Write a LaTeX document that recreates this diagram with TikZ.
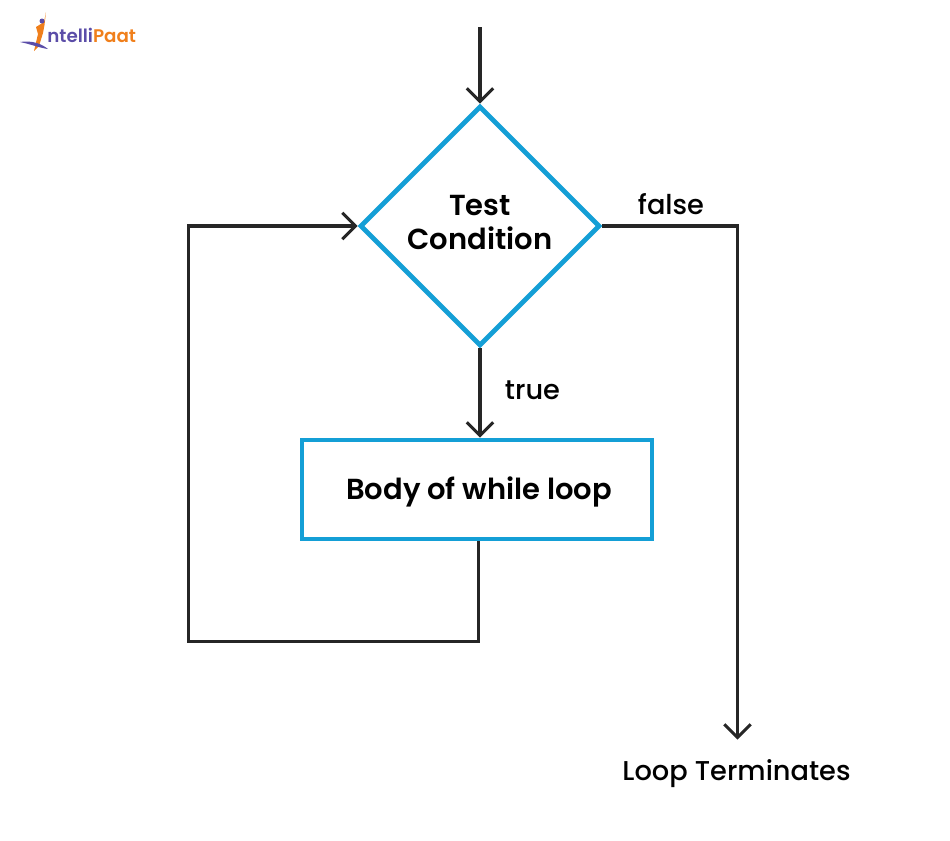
\documentclass[tikz,border=0pt]{standalone}
\usepackage{fontspec}
\setmainfont[BoldFont={Poppins SemiBold}]{Poppins Medium}
\usetikzlibrary{shapes.geometric,arrows.meta}
\definecolor{boxblue}{HTML}{149FD6}
\definecolor{linegray}{HTML}{262626}
\definecolor{logopurple}{HTML}{5B4DA8}
\definecolor{logoorange}{HTML}{F07F1B}

\begin{document}
\begin{tikzpicture}[
    x=0.02cm, y=-0.02cm,
    test/.style={diamond, draw=boxblue, line width=2.7pt, minimum width=4.8cm, minimum height=4.8cm, inner sep=0pt, align=center, font=\fontsize{16.5}{19.5}\selectfont\bfseries},
    body/.style={rectangle, draw=boxblue, line width=2.7pt, minimum width=7cm, minimum height=1.98cm, font=\fontsize{16.5}{20}\selectfont\bfseries},
    label/.style={font=\fontsize{15.5}{18}\selectfont, inner sep=0pt},
    flow/.style={draw=linegray, line width=1.75pt},
    arrow/.style={flow, -{Straight Barb[length=7.5pt, width=15pt, line width=1.75pt]}},
]

\useasboundingbox (0,0) rectangle (950,840);

\node[test] (cond) at (480,226) {\raisebox{4.2pt}{Test}\\\raisebox{4.2pt}{Condition}};
\node[body] (loopbody) at (477,489.5) {\hspace{2.5pt}\raisebox{-5.6pt}[0pt][0pt]{Body of while loop}};
\node[label, minimum height=1.24cm] (term) at (736.5,771) {\raisebox{-5.2pt}[0pt][0pt]{Loop Terminates}};

\coordinate (start) at (480,27);
\coordinate (corner) at (188.5,641.5);

\draw[arrow] (start) -- (cond.north);
\draw[arrow] (cond.south) -- (cond.south |- loopbody.north);
\draw[arrow] (cond.east) -| ([xshift=0.02cm]term.north);
\draw[arrow] ([xshift=0.03cm]loopbody.south) |- (corner) |- (cond.west);

\node[label] (falselbl) at (671,204) {false};
\node[label] (truelbl) at (532.5,390) {true};

% logo
\fill[logoorange] (46,12) -- (44.5,25) -- (43,33) -- (39,46) -- (34,51) -- (38,34) -- (36,27) -- (44,22) -- cycle;
\fill[logopurple] (42,21) circle (2.5);
\fill[logopurple] (20,42) .. controls (32,40) and (42,44) .. (48,49) .. controls (40,48) and (30,44) .. cycle;
\node[inner sep=0pt, anchor=west, font=\fontsize{10.4}{11}\selectfont\bfseries] (logo) at (47,35) {\textcolor{logopurple}{ntelli}\textcolor{logoorange}{Paat}};

\end{tikzpicture}
\end{document}
